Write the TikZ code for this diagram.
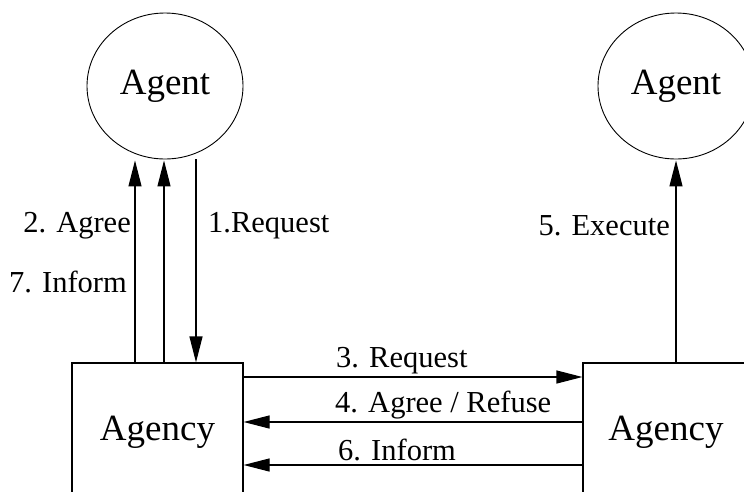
\documentclass[tikz,border=0pt]{standalone}
\usepackage{fontspec}
\setmainfont{Liberation Serif}
\usetikzlibrary{shapes.geometric,arrows.meta,calc}
\begin{document}
\begin{tikzpicture}[x=1pt,y=-1pt,
  agentnode/.style={ellipse,draw,line width=0.9pt,minimum width=156pt,minimum height=146pt,inner sep=0pt,font=\fontsize{37}{40}\selectfont},
  agencynode/.style={rectangle,draw,line width=1.2pt,minimum height=138pt,inner sep=0pt,font=\fontsize{37}{40}\selectfont},
  arr/.style={line width=1.2pt,-{Triangle[length=26pt,width=13pt]}},
  lbl/.style={inner sep=0pt,font=\fontsize{30.5}{33}\selectfont}]
\useasboundingbox (0,0) rectangle (744,491);
\clip (0,0) rectangle (744,491);
\node[agentnode] (ag1) at (165,86) {Agent};
\node[agentnode] (ag2) at (676,86) {Agent};
\node[agencynode,minimum width=171pt] (box1) at (157.5,432) {Agency};
\node[agencynode,minimum width=166pt] (box2) at (666,432) {Agency};
% vertical connectors, left
\draw[arr] ($(box1.north)+(-22.5,0)$) -- ($(ag1.south)+(-30,1)$);
\draw[arr] ($(box1.north)+(6.5,0)$) -- ($(ag1.south)+(-1,1)$);
\draw[arr] ($(ag1.south)+(31,0)$) -- ($(box1.north)+(38.5,0)$);
% vertical connector, right
\draw[arr] (ag2.south |- box2.north) -- ($(ag2.south)+(0,1)$);
% horizontal connectors
\draw[arr] ($(box1.east)+(0,-55)$) -- ($(box2.west)+(0,-55)$);
\draw[arr] ($(box2.west)+(0,-10)$) -- ($(box1.east)+(0,-10)$);
\draw[arr] ($(box2.west)+(0,33)$) -- ($(box1.east)+(0,33)$);
% labels
\node[lbl,anchor=east] (l2) at (131,226) {2. Agree};
\node[lbl,anchor=east] (l7) at (127,282) {7. Inform};
\node[lbl,anchor=west] (l1) at (208,226) {1.Request};
\node[lbl,anchor=east] (l5) at (670,226) {5. Execute};
\node[lbl,anchor=west] (l3) at (336,361) {3. Request};
\node[lbl,anchor=west] (l4) at (335,405) {4. Agree / Refuse};
\node[lbl,anchor=west] (l6) at (338,450) {6. Inform};
\end{tikzpicture}
\end{document}
